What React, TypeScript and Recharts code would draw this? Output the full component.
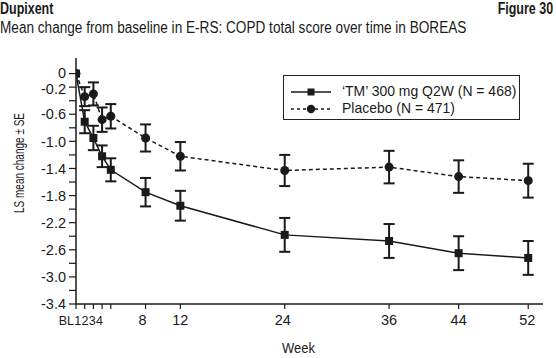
import { LineChart, Line, XAxis, YAxis, ErrorBar, Label } from 'recharts'

const WEEKS = [0, 1, 2, 3, 4, 8, 12, 24, 36, 44, 52]
const DRUG_MEAN = [0, -0.71, -0.95, -1.22, -1.42, -1.75, -1.95, -2.38, -2.47, -2.65, -2.72]
const DRUG_SE = [0, 0.17, 0.18, 0.16, 0.17, 0.21, 0.22, 0.25, 0.25, 0.25, 0.25]
const PLACEBO_MEAN = [0, -0.34, -0.3, -0.68, -0.63, -0.95, -1.22, -1.43, -1.38, -1.52, -1.58]
const PLACEBO_SE = [0, 0.14, 0.17, 0.18, 0.18, 0.2, 0.21, 0.23, 0.24, 0.24, 0.25]

const Y_TICKS = [0, -0.2, -0.4, -0.6, -0.8, -1.0, -1.2, -1.4, -1.6, -1.8, -2.0, -2.2, -2.4, -2.6, -2.8, -3.0, -3.2, -3.4]
const Y_LABELS = ['0', '-0.2', '-0.6', '-1.0', '-1.4', '-1.8', '-2.2', '-2.6', '-3.0', '-3.4']

const DRUG_NAME = '\u2018TM\u2019 300 mg Q2W (N = 468)'
const PLACEBO_NAME = 'Placebo (N = 471)'

const FONT = '"Liberation Sans", Arial, sans-serif'
const INK = '#1a1a1a'

// the early week labels sit packed together left of their ticks in the original
const X_LABEL_SHIFT: Record<number, number> = { 0: -9.7, 1: -6.9, 2: -8.4, 3: -9.9, 4: -11.4, 8: -3, 24: -2, 52: -1 }
const X_EARLY_SIZE = 12.5
// small vertical nudges of the top y labels, as in the original
const Y_LABEL_NUDGE: Record<string, number> = { '0': -1, '-0.2': 2 }

const data = WEEKS.map((w, i) => ({
  week: w,
  drug: DRUG_MEAN[i],
  drugErr: DRUG_SE[i],
  placebo: PLACEBO_MEAN[i],
  placeboErr: PLACEBO_SE[i],
}))

const SquareDot = (props: any) => {
  const { cx, cy } = props
  if (cx == null || cy == null) return null
  return <rect x={cx - 4} y={cy - 4} width={8} height={8} fill={INK} />
}

const CircleDot = (props: any) => {
  const { cx, cy } = props
  if (cx == null || cy == null) return null
  return <circle cx={cx} cy={cy} r={4.5} fill={INK} />
}

const WeekTick = ({ x, y, payload }: any) => {
  const v = payload.value
  const shift = X_LABEL_SHIFT[v] ?? 0
  const early = v <= 4
  return (
    <text
      x={x + shift}
      y={y + (early ? 1 : 0)}
      dy="0.71em"
      textAnchor="middle"
      fontSize={early ? X_EARLY_SIZE : 14.5}
      fill={INK}
      fontFamily={FONT}
    >
      {v === 0 ? 'BL' : String(v)}
    </text>
  )
}

const yLabel = (v: number) => {
  const s = v === 0 ? '0' : v.toFixed(1)
  return Y_LABELS.includes(s) ? s : ''
}

const ScoreTick = ({ x, y, payload }: any) => {
  const s = yLabel(payload.value)
  if (!s) return null
  return (
    <text x={x} y={y + (Y_LABEL_NUDGE[s] ?? 0)} dy="0.355em" textAnchor="end" fontSize={14.5} fill={INK} fontFamily={FONT}>
      {s}
    </text>
  )
}

const squeeze = (s: number, origin = 'left') => ({
  transform: `scaleX(${s})`,
  transformOrigin: `${origin} top`,
  whiteSpace: 'nowrap' as const,
})

const LegendBox = () => (
  <div
    style={{
      position: 'absolute',
      left: 283,
      top: 75,
      width: 237,
      height: 45,
      border: '1.5px solid #222',
      boxSizing: 'border-box',
      fontFamily: FONT,
      fontSize: 15,
      color: INK,
      background: '#fff',
    }}
  >
    <svg width={40} height={12} style={{ position: 'absolute', left: 7, top: 10 }}>
      <line x1={0} y1={6} x2={40} y2={6} stroke={INK} strokeWidth={1.5} />
      <rect x={16.5} y={2.5} width={7} height={7} fill={INK} />
    </svg>
    <div style={{ position: 'absolute', left: 58, top: 6, lineHeight: '18px', ...squeeze(0.93) }}>{DRUG_NAME}</div>
    <svg width={40} height={12} style={{ position: 'absolute', left: 7, top: 27 }}>
      <line x1={0} y1={6} x2={40} y2={6} stroke={INK} strokeWidth={1.5} strokeDasharray="3 3" />
      <circle cx={20} cy={6} r={4.2} fill={INK} />
    </svg>
    <div style={{ position: 'absolute', left: 58, top: 23, lineHeight: '18px', ...squeeze(0.93) }}>{PLACEBO_NAME}</div>
  </div>
)

export default function App() {
  return (
    <div style={{ position: 'absolute', left: 0, top: 0, width: 556, height: 358, background: '#fff', fontFamily: FONT, color: INK }}>
      <div style={{ position: 'absolute', left: 0, top: 0, fontSize: 16, fontWeight: 700, lineHeight: '18px', ...squeeze(0.78) }}>
        Dupixent
      </div>
      <div style={{ position: 'absolute', right: 3, top: 0, fontSize: 16, fontWeight: 700, lineHeight: '18px', ...squeeze(0.78, 'right') }}>
        Figure 30
      </div>
      <div style={{ position: 'absolute', left: 0, top: 19, fontSize: 16, lineHeight: '18px', ...squeeze(0.85) }}>
        Mean change from baseline in E-RS: COPD total score over time in BOREAS
      </div>
      <LineChart width={556} height={358} data={data} margin={{ top: 58, right: 13, left: 0, bottom: 0 }}>
        <XAxis
          dataKey="week"
          type="number"
          domain={[0, 53.7]}
          ticks={WEEKS}
          interval={0}
          tick={<WeekTick />}
          tickSize={5}
          tickMargin={6}
          height={54}
          axisLine={{ stroke: INK, strokeWidth: 1.5 }}
          tickLine={{ stroke: INK, strokeWidth: 1.2 }}
          allowDataOverflow
        >
          <Label
            content={({ viewBox }: any) => (
              <text
                x={viewBox.x + viewBox.width / 2 - 11}
                y={viewBox.y + viewBox.height - 5}
                textAnchor="middle"
                fontSize={15}
                fill={INK}
                fontFamily={FONT}
                textLength={33}
                lengthAdjust="spacingAndGlyphs"
              >
                Week
              </text>
            )}
          />
        </XAxis>
        <YAxis
          type="number"
          domain={[-3.4, 0.23]}
          ticks={Y_TICKS}
          interval={0}
          tick={<ScoreTick />}
          tickSize={7}
          tickMargin={3}
          width={76}
          axisLine={{ stroke: INK, strokeWidth: 1.5 }}
          tickLine={{ stroke: INK, strokeWidth: 1.2 }}
          allowDataOverflow
        >
          <Label
            content={() => (
              <text
                x={18}
                y={163}
                transform="rotate(-90 18 163)"
                textAnchor="middle"
                dominantBaseline="central"
                fontSize={15.5}
                fill={INK}
                fontFamily={FONT}
                textLength={100}
                lengthAdjust="spacingAndGlyphs"
              >
                LS mean change ± SE
              </text>
            )}
          />
        </YAxis>
        <Line
          dataKey="placebo"
          name={PLACEBO_NAME}
          stroke={INK}
          strokeWidth={1.5}
          strokeDasharray="4 3"
          dot={<CircleDot />}
          activeDot={false}
          isAnimationActive={false}
        >
          <ErrorBar dataKey="placeboErr" direction="y" width={5.5} stroke={INK} strokeWidth={2} />
        </Line>
        <Line
          dataKey="drug"
          name={DRUG_NAME}
          stroke={INK}
          strokeWidth={1.5}
          dot={<SquareDot />}
          activeDot={false}
          isAnimationActive={false}
        >
          <ErrorBar dataKey="drugErr" direction="y" width={5.5} stroke={INK} strokeWidth={2} />
        </Line>
      </LineChart>
      <LegendBox />
    </div>
  )
}
